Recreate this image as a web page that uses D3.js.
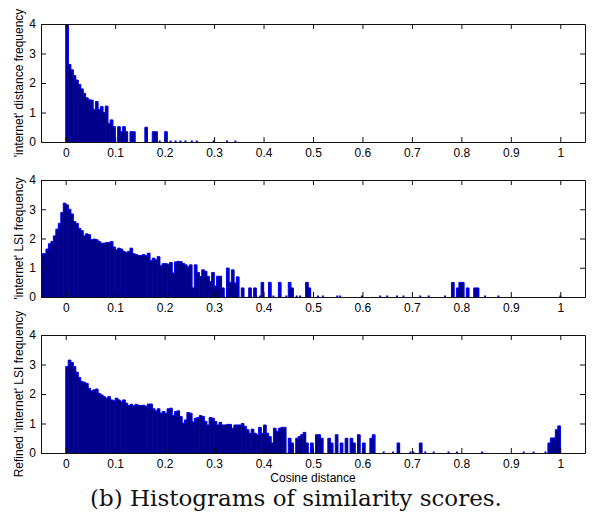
<!DOCTYPE html>
<html><head><meta charset="utf-8">
<script src="https://cdn.jsdelivr.net/npm/d3@7"></script>
<style>body{margin:0;background:#fff} svg{display:block}</style>
</head><body>
<script>
// ---------- data ----------
const binWidth = 0.005;
const xDomain = [-0.05, 1.05];
const yDomain = [0, 4];
const xTicks = [0, 0.1, 0.2, 0.3, 0.4, 0.5, 0.6, 0.7, 0.8, 0.9, 1];
const xTickLabels = ["0", "0.1", "0.2", "0.3", "0.4", "0.5", "0.6", "0.7", "0.8", "0.9", "1"];
const yTicks = [0, 1, 2, 3, 4];
const yTickLabels = ["0", "1", "2", "3", "4"];
const yLabels = ["'internet' distance frequency", "'internet' LSI frequency", "Refined 'internet' LSI frequency"];
const xLabel = "Cosine distance";
const caption = "(b) Histograms of similarity scores.";

// panel 1: 'internet' distance (bins start at 0)
const p1Start = 0;
const p1Heights = [4.6, 2.63, 2.45, 2.25, 2.1, 1.95, 1.8, 1.65, 1.5, 1.43, 1.42, 1.1, 1.37, 1.1, 1.2, 1.0, 1.22, 0.63, 0.75, 0.52,
  0, 0.52, 0.35, 0.52, 0.35, 0, 0.35, 0.35];
const p1Sparse = [[0.16, 0.5], [0.175, 0.35], [0.18, 0.35], [0.2, 0.35]];
const p1Dots = [0.093, 0.134, 0.19, 0.212, 0.222, 0.232, 0.242, 0.255, 0.265, 0.299, 0.326, 0.343];

// panel 2: 'internet' LSI (bins start at -0.05)
const p2Start = -0.05;
const p2Heights = [1.48, 1.48, 1.64, 1.82, 1.90, 2.09, 2.32, 2.52, 2.89, 3.21,
  3.15, 3.0, 2.84, 2.58, 2.52, 2.35, 2.27, 2.09, 2.16, 2.13,
  1.96, 1.98, 1.96, 1.90, 1.84, 1.84, 1.86, 1.86, 1.90, 1.71,
  1.61, 1.67, 1.64, 1.56, 1.52, 1.56, 1.67, 1.48, 1.45, 1.42,
  1.42, 1.45, 1.41, 1.50, 1.24, 1.33, 1.27, 1.38, 1.07, 1.14,
  1.14, 1.12, 1.18, 0.82, 1.20, 1.22, 1.21, 1.15, 1.10, 1.03,
  1.10, 0.31, 1.10, 0.84, 0.70, 0.93, 0.88, 0.71, 0.53, 0.84,
  0.37, 0.71, 0.71, 0.31, 0, 0.99, 0.50, 0.93, 0.48, 0.69,
  0, 0.31, 0, 0, 0.31, 0, 0.31, 0, 0, 0.50,
  0, 0, 0.50, 0, 0, 0, 0.50, 0, 0, 0,
  0.50, 0.31, 0, 0, 0, 0, 0, 0.50, 0.31];
const p2Sparse = [[0.78, 0.5], [0.79, 0.31], [0.795, 0.5], [0.8, 0.5], [0.81, 0.31], [0.825, 0.31], [0.83, 0.31]];
const p2Dots = [0.319, 0.357, 0.372, 0.385, 0.393, 0.42, 0.446, 0.467, 0.474, 0.51, 0.52, 0.549, 0.555, 0.599,
  0.636, 0.65, 0.67, 0.683, 0.717, 0.734, 0.767, 0.848, 0.875, 1.0];

// panel 3: refined 'internet' LSI (bins start at 0)
const p3Start = 0;
const p3Heights = [2.93, 3.15, 3.07, 2.93, 2.74, 2.56, 2.42, 2.40, 2.36, 2.19,
  2.11, 2.14, 2.17, 2.02, 1.97, 1.91, 1.86, 1.91, 1.80, 1.77,
  1.86, 1.80, 1.74, 1.80, 1.69, 1.61, 1.65, 1.60, 1.65, 1.62,
  1.61, 1.62, 1.58, 1.66, 1.66, 1.50, 1.43, 1.50, 1.35, 1.41,
  1.35, 1.50, 1.52, 1.27, 1.41, 1.43, 1.24, 1.01, 1.12, 1.37,
  1.35, 1.05, 1.18, 1.20, 1.27, 1.24, 1.07, 0.95, 1.20, 1.18,
  1.07, 0.95, 1.04, 0.95, 0.95, 0.97, 0.97, 0.84, 0.95, 0.95,
  0.95, 1.0, 0.9, 0.79, 0.67, 0.81, 0.67, 0.62, 0.87, 0.67,
  0.95, 0.67, 0.56, 0.34, 0.84, 0.73, 0.84, 0.87, 0.87, 0,
  0.5, 0.34, 0, 0.5, 0.56, 0.62, 0.7, 0.34, 0, 0.34,
  0, 0.62, 0.62, 0.5];
const p3Sparse = [[0.53, 0.5], [0.535, 0.34], [0.545, 0.62], [0.555, 0.34], [0.565, 0.5], [0.575, 0.5], [0.58, 0.34],
  [0.59, 0.62], [0.6, 0.34], [0.615, 0.5], [0.62, 0.62], [0.67, 0.34], [0.715, 0.34],
  [0.975, 0.34], [0.98, 0.51], [0.985, 0.51], [0.99, 0.79], [0.995, 0.92]];
const p3Dots = [0.643, 0.662, 0.697, 0.703, 0.727, 0.744, 0.774, 0.791, 0.842, 0.926, 0.946, 0.97];

// ---------- drawing ----------
const W = 592, H = 522;
const left = 41, right = 585;
const panels = [
  {top: 24, bottom: 142, start: p1Start, heights: p1Heights, sparse: p1Sparse, dots: p1Dots, label: yLabels[0]},
  {top: 180, bottom: 297, start: p2Start, heights: p2Heights, sparse: p2Sparse, dots: p2Dots, label: yLabels[1]},
  {top: 335, bottom: 453, start: p3Start, heights: p3Heights, sparse: p3Sparse, dots: p3Dots, label: yLabels[2]}
];
const fillCol = "#00008c", edgeCol = "#0000ff", axisCol = "#111";
const font = "'Liberation Sans', Arial, Helvetica, sans-serif";
const fs = "12px";

const svg = d3.select("body").append("svg").attr("width", W).attr("height", H)
  .style("font-family", font);
const x = d3.scaleLinear().domain(xDomain).range([left, right]);

panels.forEach((p, i) => {
  const y = d3.scaleLinear().domain(yDomain).range([p.bottom, p.top]);
  const g = svg.append("g");
  const clipId = "clip" + i;
  svg.append("clipPath").attr("id", clipId).append("rect")
    .attr("x", left).attr("y", p.top).attr("width", right - left).attr("height", p.bottom - p.top);

  // bins
  const bins = p.heights.map((h, k) => ({x0: +(p.start + k * binWidth).toFixed(4), h}))
    .concat(p.sparse.map(([x0, h]) => ({x0, h})))
    .filter(b => b.h > 0)
    .sort((a, b) => a.x0 - b.x0);

  const bg = g.append("g").attr("clip-path", `url(#${clipId})`);
  bg.selectAll("rect.bar").data(bins).join("rect").attr("class", "bar")
    .attr("x", d => x(d.x0)).attr("width", d => x(d.x0 + binWidth) - x(d.x0) + 0.6)
    .attr("y", d => y(d.h)).attr("height", d => y(0) - y(d.h))
    .attr("fill", fillCol);

  // outlines of contiguous runs
  const runs = [];
  bins.forEach(b => {
    const last = runs.length ? runs[runs.length - 1] : null;
    if (last && Math.abs(last[last.length - 1].x0 + binWidth - b.x0) < 1e-6) last.push(b);
    else runs.push([b]);
  });
  bg.selectAll("path.run").data(runs).join("path").attr("class", "run")
    .attr("d", run => {
      let d = `M${x(run[0].x0)},${y(0)}`;
      run.forEach(b => { d += `V${y(b.h)}H${x(b.x0 + binWidth)}`; });
      return d + `V${y(0)}`;
    })
    .attr("fill", "none").attr("stroke", edgeCol).attr("stroke-width", 1);

  // zero-bin marks
  bg.selectAll("rect.dot").data(p.dots).join("rect").attr("class", "dot")
    .attr("x", d => x(d) - 1).attr("y", y(0) - 1.5).attr("width", 2).attr("height", 2)
    .attr("fill", edgeCol);

  // axes
  const ax = (sel) => sel.call(s => s.selectAll("path,line").attr("stroke", axisCol))
    .call(s => s.selectAll("text").attr("fill", "#000").style("font-size", fs).style("font-family", font));
  g.append("g").attr("transform", `translate(0,${p.bottom})`)
    .call(d3.axisBottom(x).tickValues(xTicks).tickFormat((d, j) => xTickLabels[j]).tickSize(-5).tickSizeOuter(0).tickPadding(6)).call(ax);
  g.append("g").attr("transform", `translate(0,${p.top})`)
    .call(d3.axisTop(x).tickValues(xTicks).tickFormat("").tickSize(-5).tickSizeOuter(0)).call(ax);
  g.append("g").attr("transform", `translate(${left},0)`)
    .call(d3.axisLeft(y).tickValues(yTicks).tickFormat((d, j) => yTickLabels[j]).tickSize(-5).tickSizeOuter(0).tickPadding(5)).call(ax);
  g.append("g").attr("transform", `translate(${right},0)`)
    .call(d3.axisRight(y).tickValues(yTicks).tickFormat("").tickSize(-5).tickSizeOuter(0)).call(ax);

  // y label
  g.append("text")
    .attr("transform", `translate(23,${(p.top + p.bottom) / 2}) rotate(-90)`)
    .attr("text-anchor", "middle").style("font-size", fs).attr("fill", "#000")
    .text(p.label);
});

svg.append("text").attr("x", (left + right) / 2).attr("y", 482)
  .attr("text-anchor", "middle").style("font-size", fs).attr("fill", "#000").text(xLabel);

const cap = svg.append("text").attr("x", 296).attr("y", 506)
  .attr("text-anchor", "middle").style("font-family", "'DejaVu Serif', 'Liberation Serif', serif")
  .style("font-size", "18px").attr("fill", "#111").text(caption);
const len = cap.node().getComputedTextLength();
cap.style("font-size", (18 * 412 / len).toFixed(2) + "px");
</script>
</body></html>
